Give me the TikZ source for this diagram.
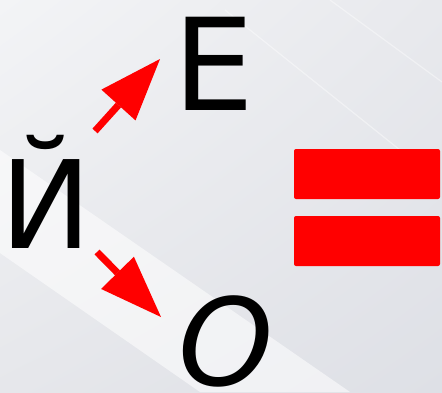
\documentclass[tikz,border=0pt]{standalone}
\usepackage{fontspec}
\setmainfont{DejaVu Sans}
\usetikzlibrary{arrows.meta,shadings}
\definecolor{bgUL}{HTML}{F3F4F6}
\definecolor{bgUR}{HTML}{E8E9ED}
\definecolor{bgLL}{HTML}{E6E7EB}
\definecolor{bgLR}{HTML}{DEE0E6}
\definecolor{arrred}{HTML}{FF0000}
\tikzset{
  letter/.style={inner sep=0pt, anchor=base, font=\fontsize{128}{128}\selectfont, text=black},
  eqbar/.style={fill=arrred, rounded corners=2pt, minimum width=146pt, minimum height=50pt, inner sep=0pt},
  redarrow/.style={draw=arrred, line width=7pt, -{Triangle[width=46pt,length=62pt,line width=0pt]}},
  streak/.style={white, line width=1.2pt, opacity=0.4}
}
\begin{document}
\begin{tikzpicture}[x=1pt,y=-1pt]
\useasboundingbox (0,0) rectangle (442,392);
% background
\shade[upper left=bgUL, upper right=bgUR, lower left=bgLL, lower right=bgLR] (0,0) rectangle (442,392);
\fill[white, opacity=0.55] (0,150) -- (350,392) -- (200,392) -- (0,253) -- cycle;
\draw[streak] (225,10) -- (400,150);
\draw[streak] (330,0) -- (442,82);
% letters
\node[letter, anchor=base west, font=\fontsize{122}{122}\selectfont] (yi) at (0,248) {Й};
\node[letter] (ye) at (214,110) {Е};
\node[letter, font=\fontsize{121}{121}\selectfont\itshape] (o) at (226,385) {О};
% arrows
\coordinate (a1s) at (95,131);
\coordinate (a1e) at (160,59);
\coordinate (a2s) at (97,252);
\coordinate (a2e) at (161,317);
\draw[redarrow] (a1s) -- (a1e);
\draw[redarrow] (a2s) -- (a2e);
% equals sign
\node[eqbar] (eq1) at (367,174) {};
\node[eqbar] (eq2) at (367,241) {};
\end{tikzpicture}
\end{document}
